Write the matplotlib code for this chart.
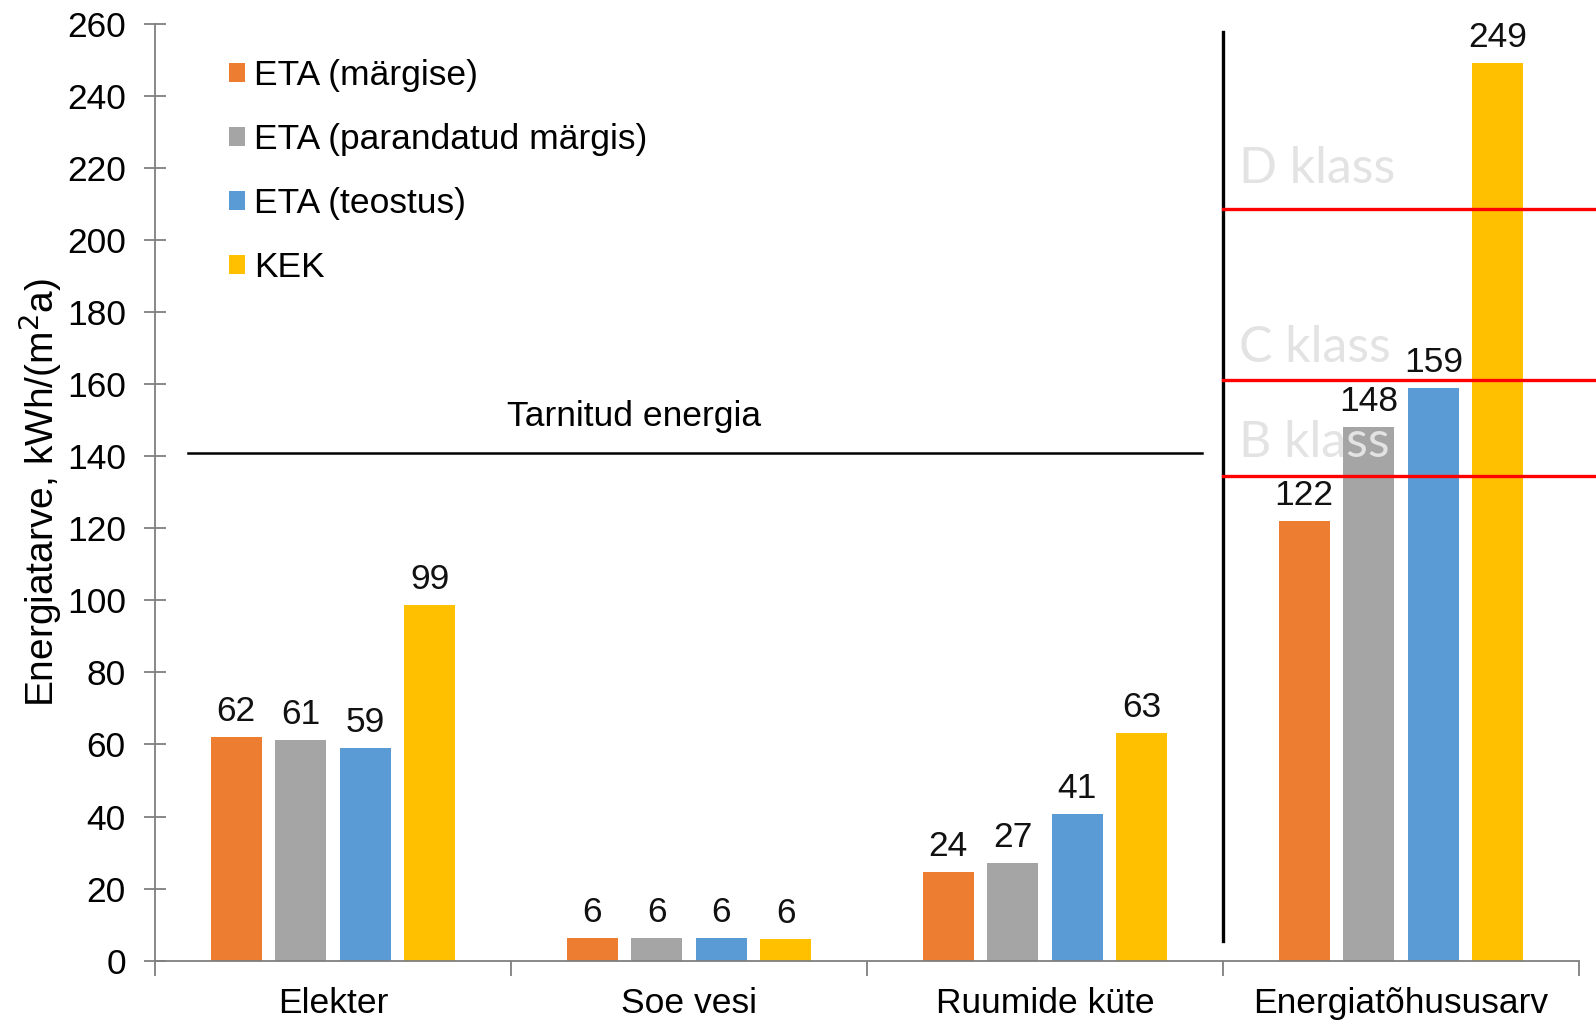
import matplotlib
matplotlib.use("Agg")
import matplotlib.pyplot as plt
import numpy as np

categories = ["Elekter", "Soe vesi", "Ruumide küte", "Energiatõhususarv"]
series_names = ["ETA (märgise)", "ETA (parandatud märgis)", "ETA (teostus)", "KEK"]
eta_margise = [62.1, 6.4, 24.5, 122]
eta_parandatud = [61.2, 6.4, 27.0, 148]
eta_teostus = [59.0, 6.4, 40.6, 159]
kek = [98.8, 5.9, 63.2, 249]
series_values = [eta_margise, eta_parandatud, eta_teostus, kek]
colors = ["#ED7D31", "#A5A5A5", "#5B9BD5", "#FFC000"]

class_limits = [134.5, 161.0, 208.5]
class_names = ["B klass", "C klass", "D klass"]
class_text_y = [139.8, 166.1, 215.8]
tarnitud_level = 141
yticks = list(range(0, 261, 20))

plt.rcParams['font.family'] = ['Liberation Sans', 'DejaVu Sans']
FS = 25.5

fig = plt.figure(figsize=(15.96, 10.21), dpi=100)
ax = fig.add_axes([155/1596, 1-960.7/1021, 1424/1596, 937/1021])

x = np.arange(len(categories))
step = 0.1815
width = 0.143
for i, (name, vals, c) in enumerate(zip(series_names, series_values, colors)):
    bars = ax.bar(x + (i-1.5)*step, vals, width, color=c, label=name, zorder=2)
    ax.bar_label(bars, labels=[f"{v:.0f}" for v in vals], padding=6.5, fontsize=FS, color='#111111')

ax.set_xlim(-0.5, 3.5)
ax.set_ylim(0, 260)
ax.set_yticks(yticks)
ax.set_xticks(x)
ax.set_xticklabels(categories)
ax.set_xticks(np.arange(-0.5, 4, 1), minor=True)
ax.tick_params(axis='x', which='major', length=0, pad=19, labelsize=FS)
ax.tick_params(axis='x', which='minor', length=11, width=1.3, color='#7f7f7f', direction='out')
ax.tick_params(axis='y', length=16, width=1.3, color='#7f7f7f', direction='inout', labelsize=FS, pad=13)

for s in ['top', 'right']:
    ax.spines[s].set_visible(False)
for s in ['left', 'bottom']:
    ax.spines[s].set_color('#7f7f7f')
    ax.spines[s].set_linewidth(1.3)

ax.set_ylabel("Energiatarve, kWh/(m$^2$a)", fontsize=28)
ax.yaxis.set_label_coords(-0.064, 0.5)

# Tarnitud energia line
ax.plot([-0.407, 2.441], [tarnitud_level, tarnitud_level], color='black', lw=1.8, zorder=3)
ax.text(0.846, 151, "Tarnitud energia", ha='center', va='center', fontsize=FS)

# vertical separator
ax.plot([2.5, 2.5], [5.5, 257.7], color='black', lw=2.4, zorder=3)

# class texts and lines
for lim, name, ty in zip(class_limits, class_names, class_text_y):
    ax.text(2.545, ty, name, fontsize=36, color='#E3E3E3', family='Lato', ha='left', va='baseline', zorder=4)
    ax.plot([2.5, 3.6], [lim, lim], color='#FF0000', lw=2.4, zorder=5, clip_on=False)

ax.legend(loc='upper left', bbox_to_anchor=(0.052, 0.962), frameon=False, fontsize=FS,
          handlelength=0.45, handleheight=0.45, handletextpad=0.25, labelspacing=0.87,
          borderpad=0, borderaxespad=0)

fig.savefig("out.png", dpi=100)
